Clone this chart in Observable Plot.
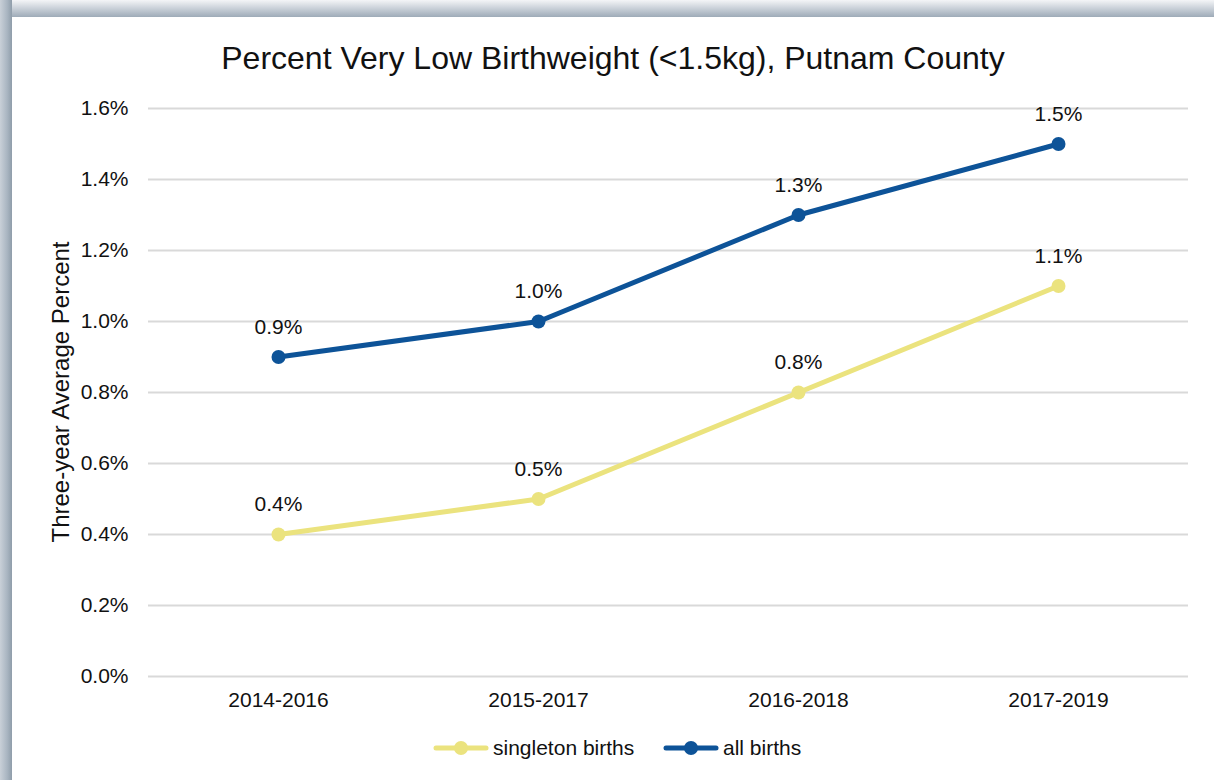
<!DOCTYPE html>
<html>
<head>
<meta charset="utf-8">
<script src="https://cdn.jsdelivr.net/npm/d3@7"></script>
<script src="https://cdn.jsdelivr.net/npm/@observablehq/plot@0.6"></script>
<style>
  html, body { margin: 0; padding: 0; }
  body { width: 1214px; height: 780px; position: relative; overflow: hidden; background: #fff;
         font-family: "Liberation Sans", Arial, sans-serif; }
  #frameTop { position: absolute; left: 0; top: 0; width: 1214px; height: 17px;
              background: linear-gradient(to bottom, #f4f5f7 0%, #c9d0d8 50%, #9eabb8 100%); }
  #frameLeft { position: absolute; left: 0; top: 0; width: 12px; height: 780px;
               background: linear-gradient(to right, #c9d0d8 0%, #a9b5c1 60%, #8f9daa 100%); }
  #title { position: absolute; left: 12px; width: 1202px; top: 38px; text-align: center;
           font-size: 32px; color: #111; white-space: nowrap; line-height: 40px; }
  #ylabel { position: absolute; left: 61px; top: 392px; transform: translate(-50%, -50%) rotate(-90deg);
            font-size: 24px; color: #111; white-space: nowrap; }
  #chart { position: absolute; left: 0; top: 80px; }
  #legend { position: absolute; left: 0; width: 1214px; top: 736px; height: 24px; }
  .item { position: absolute; top: 0; font-size: 21px; color: #111; display: flex; align-items: center; }
  .item svg { display: block; margin-right: 3px; }
</style>
</head>
<body>
<div id="frameTop"></div>
<div id="frameLeft"></div>
<div id="title">Percent Very Low Birthweight (&lt;1.5kg), Putnam County</div>
<div id="chart"></div>
<div id="ylabel">Three-year Average Percent</div>
<div id="legend"></div>
<script>
const periods = ["2014-2016", "2015-2017", "2016-2018", "2017-2019"];
const singletonBirths = [0.4, 0.5, 0.8, 1.1];
const allBirths = [0.9, 1.0, 1.3, 1.5];
const seriesNames = ["singleton births", "all births"];
const seriesColors = ["#ebe37e", "#0d5398"];
const yTicks = [0, 0.2, 0.4, 0.6, 0.8, 1.0, 1.2, 1.4, 1.6];

const rows = [];
periods.forEach((p, i) => {
  rows.push({period: p, value: singletonBirths[i], series: seriesNames[0]});
  rows.push({period: p, value: allBirths[i], series: seriesNames[1]});
});

const chart = Plot.plot({
  width: 1214,
  height: 640,
  marginLeft: 148,
  marginRight: 26,
  marginTop: 28,
  marginBottom: 44,
  style: {fontFamily: "'Liberation Sans', Arial, sans-serif", fontSize: "21px", color: "#111", background: "transparent"},
  x: {type: "point", domain: periods, padding: 0.5, label: null, tickSize: 0, tickPadding: 16},
  y: {domain: [0, 1.6], ticks: yTicks, tickFormat: d => d.toFixed(1) + "%", tickSize: 0, tickPadding: 20, label: null},
  color: {domain: seriesNames, range: seriesColors},
  marks: [
    Plot.ruleY(yTicks, {stroke: "#d9d9d9", strokeWidth: 2}),
    Plot.line(rows, {x: "period", y: "value", z: "series", stroke: "series", strokeWidth: 5}),
    Plot.dot(rows, {x: "period", y: "value", fill: "series", r: 7, stroke: null}),
    Plot.text(rows, {x: "period", y: "value", text: d => d.value.toFixed(1) + "%", dy: -30, fontSize: 21, fill: "#111"})
  ]
});
document.getElementById("chart").appendChild(chart);

const legend = document.getElementById("legend");
const legendX = [432, 662];
seriesNames.forEach((name, i) => {
  const item = document.createElement("div");
  item.className = "item";
  item.style.left = legendX[i] + "px";
  item.innerHTML = `<svg width="58" height="24"><line x1="4" x2="54" y1="12" y2="12" stroke="${seriesColors[i]}" stroke-width="5" stroke-linecap="round"/><circle cx="29" cy="12" r="7" fill="${seriesColors[i]}"/></svg><span>${name}</span>`;
  legend.appendChild(item);
});
</script>
</body>
</html>
